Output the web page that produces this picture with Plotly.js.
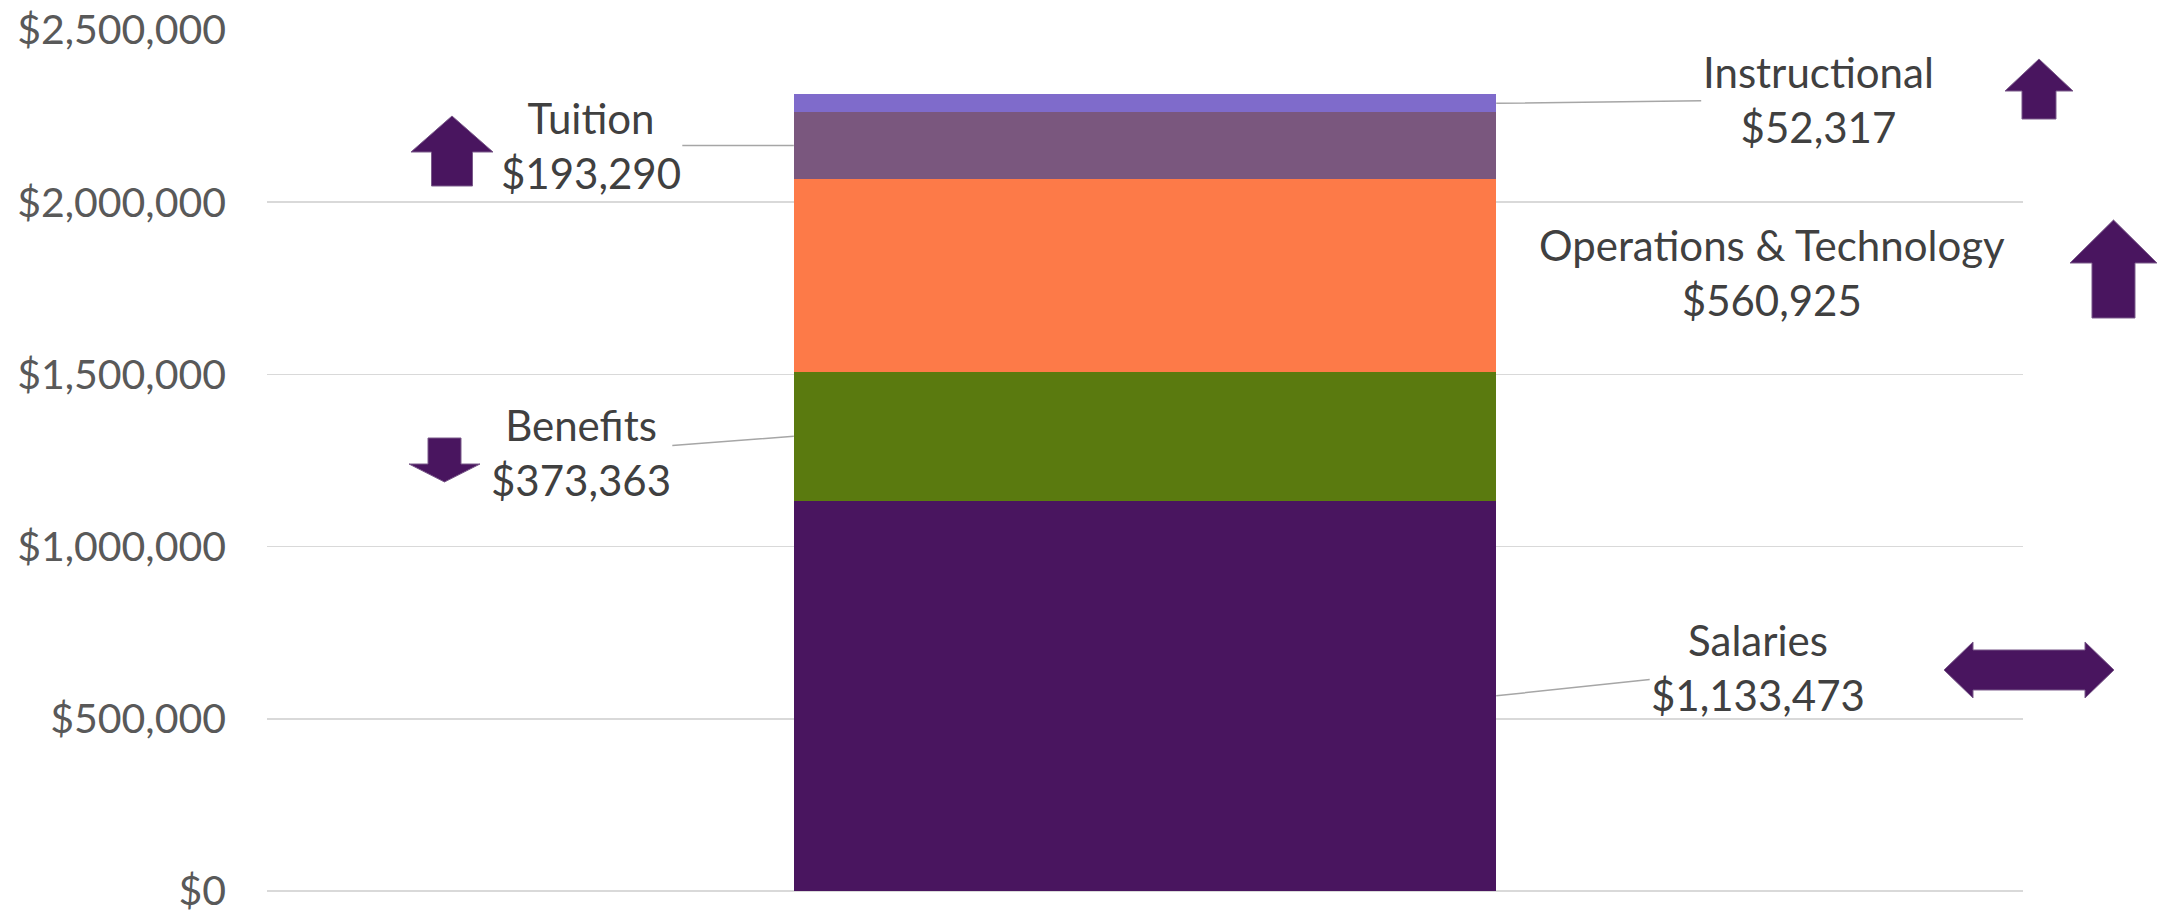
<!DOCTYPE html>
<html>
<head>
<meta charset="utf-8">
<script src="https://cdn.plot.ly/plotly-3.0.1.min.js"></script>
<style>
  html, body { margin: 0; padding: 0; background: #ffffff; }
  #chart { width: 2169px; height: 911px; }
</style>
</head>
<body>
<div id="chart"></div>
<script>
// Budget categories, stacked bottom to top
const categories = ['Salaries', 'Benefits', 'Operations & Technology', 'Tuition', 'Instructional'];
const amounts = [1133473, 373363, 560925, 193290, 52317];
const trends = ['flat', 'down', 'up', 'up', 'up'];
const tickValues = [0, 500000, 1000000, 1500000, 2000000, 2500000];
const tickLabels = ['$0', '$500,000', '$1,000,000', '$1,500,000', '$2,000,000', '$2,500,000'];

const segmentColors = ['#49155F', '#5A7A0F', '#FD7A48', '#7A577E', '#7F6BCB'];

// Canvas and plot-area geometry (pixels)
const W = 2169, H = 911;
const M = { l: 267, r: 146, t: 30, b: 20 };
const plotW = W - M.l - M.r, plotH = H - M.t - M.b;
const yMax = 2500000;
const barHalf = 0.2;           // half of the bar width in category units (bargap 0.6)

const money = v => '$' + v.toLocaleString('en-US');

// Label placement per category: pixel offset of the label centre from the
// leader anchor (bar edge at the segment middle); side = which bar edge.
const labelPlacement = {
  'Salaries':                { side: 1,  dx: 262, dy: -28, leader: true },
  'Benefits':                { side: -1, dx: -213, dy: 16, leader: true },
  'Operations & Technology': { side: 1,  dx: 276, dy: -3, leader: false },
  'Tuition':                 { side: -1, dx: -203, dy: 0, leader: true },
  'Instructional':           { side: 1,  dx: 322, dy: -4, leader: true }
};

// Trend marker geometry per category (pixels)
const trendMarks = {
  'Salaries':                { x0: 1944, x1: 2114, cy: 670, h: 56, shaft: 40, head: 29 },
  'Benefits':                { cx: 444.5, top: 438, w: 71, h: 44, shaft: 33, head: 18 },
  'Operations & Technology': { cx: 2113.5, top: 220, w: 87, h: 98, shaft: 43, head: 43 },
  'Tuition':                 { cx: 452, top: 116, w: 82, h: 70, shaft: 41, head: 36 },
  'Instructional':           { cx: 2039, top: 59, w: 68, h: 60, shaft: 34, head: 32 }
};

const px = x => (x - M.l) / plotW;            // pixel -> paper x
const py = y => (H - M.b - y) / plotH;        // pixel -> paper y
const pathOf = pts => 'M ' + pts.map(p => px(p[0]).toFixed(5) + ',' + py(p[1]).toFixed(5)).join(' L ') + ' Z';

function arrowPoints(kind, g) {
  if (kind === 'up') {
    const hb = g.top + g.head, bot = g.top + g.h;
    return [[g.cx, g.top], [g.cx + g.w / 2, hb], [g.cx + g.shaft / 2, hb], [g.cx + g.shaft / 2, bot],
            [g.cx - g.shaft / 2, bot], [g.cx - g.shaft / 2, hb], [g.cx - g.w / 2, hb]];
  }
  if (kind === 'down') {
    const bot = g.top + g.h, hb = bot - g.head;
    return [[g.cx - g.shaft / 2, g.top], [g.cx + g.shaft / 2, g.top], [g.cx + g.shaft / 2, hb],
            [g.cx + g.w / 2, hb], [g.cx, bot], [g.cx - g.w / 2, hb], [g.cx - g.shaft / 2, hb]];
  }
  // flat: double-headed horizontal arrow
  const t = g.cy - g.h / 2, b = g.cy + g.h / 2, st = g.cy - g.shaft / 2, sb = g.cy + g.shaft / 2;
  return [[g.x0, g.cy], [g.x0 + g.head, t], [g.x0 + g.head, st], [g.x1 - g.head, st], [g.x1 - g.head, t],
          [g.x1, g.cy], [g.x1 - g.head, b], [g.x1 - g.head, sb], [g.x0 + g.head, sb], [g.x0 + g.head, b]];
}

// Stacked bar traces
const traces = categories.map((name, i) => ({
  type: 'bar',
  name: name,
  x: ['Budget'],
  y: [amounts[i]],
  marker: { color: segmentColors[i], line: { width: 0 } },
  hoverinfo: 'skip'
}));

// Data labels with leader lines anchored on the bar edge at each segment middle
let base = 0;
const annotations = categories.map((name, i) => {
  const mid = base + amounts[i] / 2;
  base += amounts[i];
  const p = labelPlacement[name];
  const a = {
    xref: 'x', yref: 'y',
    x: p.side * barHalf, y: mid,
    text: name + '<br>' + money(amounts[i]),
    font: { family: 'Lato, "Open Sans", sans-serif', size: 42, color: '#404040' },
    align: 'center'
  };
  if (p.leader) {
    Object.assign(a, {
      showarrow: true, arrowhead: 0, arrowwidth: 1.5, arrowcolor: '#A6A6A6',
      ax: p.dx, ay: p.dy, axref: 'pixel', ayref: 'pixel', standoff: 0
    });
  } else {
    Object.assign(a, { showarrow: false, xshift: p.dx, yshift: -p.dy, xanchor: 'center', yanchor: 'middle' });
  }
  return a;
});

// Trend markers beside the labels
const shapes = categories.map((name, i) => ({
  type: 'path',
  xref: 'paper', yref: 'paper',
  path: pathOf(arrowPoints(trends[i], trendMarks[name])),
  fillcolor: '#49155F',
  line: { color: '#7A5A8A', width: 1 }
}));

const layout = {
  width: W, height: H,
  margin: M,
  paper_bgcolor: '#ffffff',
  plot_bgcolor: '#ffffff',
  barmode: 'stack',
  bargap: 0.6,
  showlegend: false,
  font: { family: 'Lato, "Open Sans", sans-serif', color: '#595959' },
  xaxis: {
    type: 'category',
    range: [-0.5, 0.5],
    showticklabels: false,
    showgrid: false,
    zeroline: false,
    showline: false,
    ticks: ''
  },
  yaxis: {
    range: [0, yMax],
    tickmode: 'array',
    tickvals: tickValues,
    ticktext: tickLabels,
    tickfont: { family: 'Lato, "Open Sans", sans-serif', size: 41, color: '#595959' },
    ticklabeloverflow: 'allow',
    showgrid: true,
    gridcolor: '#D9D9D9',
    gridwidth: 1.5,
    zeroline: true,
    zerolinecolor: '#D9D9D9',
    zerolinewidth: 1.5,
    showline: false,
    ticks: '',
    ticklabelstandoff: 40
  },
  annotations: annotations,
  shapes: shapes
};

Plotly.newPlot('chart', traces, layout, { displayModeBar: false, staticPlot: true });
</script>
</body>
</html>
